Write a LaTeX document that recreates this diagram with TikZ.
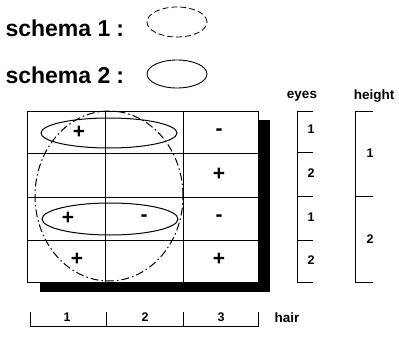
\documentclass[tikz,border=0pt]{standalone}
\usepackage{fontspec}
\setmainfont{Liberation Sans}
\begin{document}
\begin{tikzpicture}[x=1pt,y=-1pt, line width=1pt,
  lbl/.style={font=\bfseries\fontsize{23}{23}\selectfont, inner sep=0pt},
  small/.style={font=\bfseries\fontsize{13.5}{13.5}\selectfont, inner sep=0pt},
  num/.style={font=\bfseries\fontsize{12.5}{12.5}\selectfont, inner sep=0pt},
  sign/.style={font=\bfseries\fontsize{21}{21}\selectfont, inner sep=0pt},
  dashdot/.style={dash pattern=on 8pt off 3pt on 1.5pt off 3pt},
  loosedash/.style={dash pattern=on 6pt off 3pt}]
\useasboundingbox (0,0) rectangle (399,337);
% header
\node[lbl, anchor=west] (s1) at (5,28) {schema 1\hspace{6pt}:};
\node[lbl, anchor=west] (s2) at (5,75) {schema 2\hspace{6pt}:};
\draw[loosedash, line width=0.8pt] (177,22) ellipse [x radius=30pt, y radius=15pt];
\draw[line width=0.9pt] (177,74) ellipse [x radius=30pt, y radius=14pt];
% shadow
\fill[black] (40,120) rectangle (270,292);
% grid
\fill[white] (27,111) rectangle (258,282);
\draw (27,111) rectangle (258,282);
\draw (105,111) -- (105,282);
\draw (183,111) -- (183,282);
\draw (27,153) -- (258,153);
\draw (27,197) -- (258,197);
\draw (27,240) -- (258,240);
% ellipses in grid
\draw[dashdot] (109,196) ellipse [x radius=74pt, y radius=85pt];
\draw (109,133) ellipse [x radius=68pt, y radius=15pt];
\draw (110,219) ellipse [x radius=68pt, y radius=16pt];
% signs
\node[sign] (p11) at (79,132) {+};
\node[sign] (m13) at (219,132) {-};
\node[sign] (p23) at (219,174) {+};
\node[sign] (p31) at (68,218) {+};
\node[sign] (m32) at (144,218) {-};
\node[sign] (m33) at (219,218) {-};
\node[sign] (p41) at (77,259) {+};
\node[sign] (p43) at (219,259) {+};
% eyes bracket
\node[small] (eyes) at (302,96) {eyes};
\draw (313,111) -- (297,111) -- (297,282) -- (313,282);
\draw (297,152) -- (313,152);
\draw (297,196) -- (313,196);
\draw (297,240) -- (313,240);
\node[num] (e1) at (311,129) {1};
\node[num] (e2) at (311,173) {2};
\node[num] (e3) at (311,217) {1};
\node[num] (e4) at (311,260) {2};
% height bracket
\node[small] (height) at (374,96) {height};
\draw (373,111) -- (355,111) -- (355,282) -- (373,282);
\draw (355,196) -- (373,196);
\node[num] (h1) at (370,153) {1};
\node[num] (h2) at (370,239) {2};
% hair bracket
\draw (30,312) -- (30,326) -- (258,326) -- (258,312);
\draw (106,312) -- (106,326);
\draw (183,312) -- (183,326);
\node[num] (a1) at (67,317) {1};
\node[num] (a2) at (145,317) {2};
\node[num] (a3) at (221,317) {3};
\node[small, anchor=west] (hair) at (274,318) {hair};
\end{tikzpicture}
\end{document}
